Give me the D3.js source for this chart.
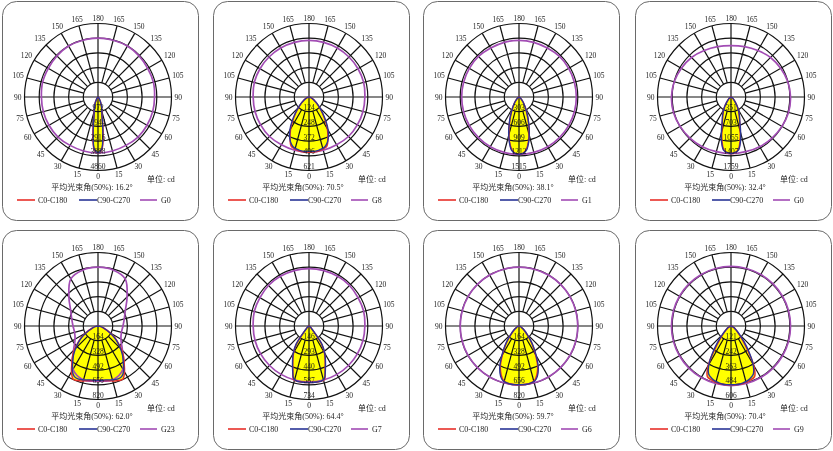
<!DOCTYPE html>
<html>
<head>
<meta charset="utf-8">
<script src="https://cdn.jsdelivr.net/npm/d3@7"></script>
<style>
  body { margin: 0; background: #fff; -webkit-font-smoothing: antialiased; }
  svg { display: block; will-change: transform; }
  text { font-family: "Liberation Serif", "Noto Sans CJK SC", serif; opacity: 0.99; }
</style>
</head>
<body>
<svg id="chart" width="833" height="451"></svg>
<script>
// angles (degrés depuis le bas, 0 = nadir) pour les courbes C
var angles = [0, 4, 8, 12, 16, 20, 25, 30, 35, 40, 45, 50, 55, 60, 70, 80, 90];
// angles pour la courbe G (0 à 180)
var gAngles = [0, 15, 30, 45, 60, 75, 90, 105, 120, 135, 150, 165, 180];

// valeur max de l'échelle (cd), angle de faisceau, nom de la courbe G
var maxCd = [4860, 621, 1515, 1759, 820, 734, 820, 606];
var beamAngles = ["16.2", "70.5", "38.1", "32.4", "62.0", "64.4", "59.7", "70.4"];
var gNames = ["G0", "G8", "G1", "G0", "G23", "G7", "G6", "G9"];

// intensités relatives (% de l'échelle max)
var c0Pan1  = [76, 72, 50, 27, 19, 14, 9, 5, 3, 2, 1, 1, 0, 0, 0, 0, 0];
var c90Pan1 = [76, 71, 47, 26, 19, 14, 9, 5, 3, 2, 1, 0, 0, 0, 0, 0, 0];
var gPan1   = [76, 76, 76, 77, 77, 77, 77, 78, 78, 79, 80, 80, 80];

var c0Pan2  = [75, 75, 75, 74, 73, 71, 61, 50, 38, 28, 20, 14, 10, 7, 3, 1, 0];
var c90Pan2 = [74, 74, 74, 73, 72, 69, 62, 52, 40, 29, 21, 15, 10, 7, 3, 1, 0];
var gPan2   = [75, 75, 75, 76, 76, 76, 76, 77, 77, 77, 77, 77, 77];

var c0Pan3  = [78, 77, 72, 62, 50, 38, 26, 18, 12, 8, 5, 3, 2, 1, 0, 0, 0];
var c90Pan3 = [78, 77, 73, 63, 51, 39, 27, 18, 12, 8, 5, 3, 2, 1, 0, 0, 0];
var gPan3   = [78, 78, 78, 78, 78, 78, 78, 78, 78, 78, 77, 77, 77];

var c0Pan4  = [77, 76, 72, 60, 45, 34, 26, 20, 14, 9, 6, 4, 2, 1, 0, 0, 0];
var c90Pan4 = [77, 76, 73, 62, 47, 35, 27, 20, 14, 9, 6, 4, 2, 1, 0, 0, 0];
var gPan4   = [77, 77, 78, 79, 80, 81, 81, 80, 78, 76, 73, 71, 70];

var c0Pan5  = [74, 74, 75, 76, 78, 79, 80, 72, 62, 54, 45, 36, 28, 20, 8, 3, 0];
var c90Pan5 = [74, 74, 74, 75, 76, 77, 76, 70, 60, 52, 43, 35, 27, 19, 8, 3, 0];
var gPan5   = [75, 76, 68, 47, 36, 33, 34, 37, 43, 56, 74, 79, 80];

var c0Pan6  = [77, 77, 77, 77, 76, 64, 52, 42, 30, 10, 5, 3, 2, 1, 0, 0, 0];
var c90Pan6 = [77, 77, 77, 77, 75, 65, 53, 43, 31, 11, 5, 3, 2, 1, 0, 0, 0];
var gPan6   = [76, 76, 76, 76, 76, 76, 76, 77, 77, 78, 78, 78, 78];

var c0Pan7  = [80, 80, 80, 79, 77, 71, 60, 45, 33, 22, 14, 9, 6, 4, 2, 1, 0];
var c90Pan7 = [80, 80, 80, 79, 78, 73, 62, 47, 34, 23, 15, 10, 6, 4, 2, 1, 0];
var gPan7   = [80, 80, 80, 80, 80, 80, 80, 80, 80, 80, 80, 80, 80];

var c0Pan8  = [80, 80, 80, 80, 79, 78, 76, 62, 38, 23, 15, 10, 7, 5, 2, 1, 0];
var c90Pan8 = [80, 80, 80, 79, 78, 76, 72, 60, 42, 27, 17, 11, 7, 5, 2, 1, 0];
var gPan8   = [81, 81, 81, 81, 81, 81, 81, 81, 81, 81, 81, 81, 81];

var c0All = [c0Pan1, c0Pan2, c0Pan3, c0Pan4, c0Pan5, c0Pan6, c0Pan7, c0Pan8];
var c90All = [c90Pan1, c90Pan2, c90Pan3, c90Pan4, c90Pan5, c90Pan6, c90Pan7, c90Pan8];
var gAll = [gPan1, gPan2, gPan3, gPan4, gPan5, gPan6, gPan7, gPan8];

var panelX = [2, 213, 423, 635];
var panelY = [1, 230];
var panelW = 196, panelH = 219;
var cx = 96, cy = 96;
var R = 73.5;

var red = "#e8302a", blue = "#2a3596", purple = "#a24cb4", yellow = "#ffff00";
var ink = "#1a1a1a";

var svg = d3.select("#chart");
var rad = Math.PI / 180;

// courbe C : côté droit de 90 à 0 puis côté gauche de 0 à 90
function lobePath(values, r) {
  var pts = [];
  for (var i = angles.length - 1; i >= 0; i--) pts.push([Math.PI - angles[i] * rad, r(values[i])]);
  for (var i = 1; i < angles.length; i++) pts.push([Math.PI + angles[i] * rad, r(values[i])]);
  return d3.lineRadial().curve(d3.curveCatmullRom.alpha(0.5))(pts);
}

// courbe G fermée, symétrique
function gPath(values, r) {
  var pts = [];
  for (var i = gAngles.length - 1; i >= 0; i--) pts.push([Math.PI - gAngles[i] * rad, r(values[i])]);
  for (var i = 1; i < gAngles.length - 1; i++) pts.push([Math.PI + gAngles[i] * rad, r(values[i])]);
  return d3.lineRadial().curve(d3.curveCatmullRomClosed.alpha(0.5))(pts);
}

function drawPanel(k) {
  var g = svg.append("g")
    .attr("transform", `translate(${panelX[k % 4]},${panelY[Math.floor(k / 4)]})`);

  g.append("rect")
    .attr("x", 0.5).attr("y", 0.5)
    .attr("width", panelW).attr("height", panelH)
    .attr("rx", 14)
    .attr("fill", "#fff")
    .attr("stroke", "#6a6a6a")
    .attr("stroke-width", 1);

  var r = d3.scaleLinear().domain([0, 100]).range([0, R]);
  var c = g.append("g").attr("transform", `translate(${cx},${cy})`);

  // remplissage jaune
  c.append("path").attr("d", lobePath(c0All[k], r)).attr("fill", yellow);
  c.append("path").attr("d", lobePath(c90All[k], r)).attr("fill", yellow);

  // grille
  var grid = c.append("g").attr("stroke", "#111").attr("stroke-width", 1.2).attr("fill", "none");
  [20, 40, 60, 80, 100].forEach(v => grid.append("circle").attr("r", r(v)));
  d3.range(15, 180, 15).filter(a => a != 90).forEach(a => {
    [-1, 1].forEach(s => {
      grid.append("line")
        .attr("x1", s * r(20) * Math.sin(a * rad)).attr("y1", r(20) * Math.cos(a * rad))
        .attr("x2", s * r(100) * Math.sin(a * rad)).attr("y2", r(100) * Math.cos(a * rad));
    });
  });
  grid.append("line").attr("x1", -R).attr("x2", R).attr("y1", 0).attr("y2", 0);
  grid.append("line").attr("x1", 0).attr("x2", 0).attr("y1", -R).attr("y2", R);

  // courbes
  c.append("path").attr("d", gPath(gAll[k], r))
    .attr("fill", "none").attr("stroke", purple).attr("stroke-width", 1.7);
  c.append("path").attr("d", lobePath(c0All[k], r))
    .attr("fill", "none").attr("stroke", red).attr("stroke-width", 1.5);
  c.append("path").attr("d", lobePath(c90All[k], r))
    .attr("fill", "none").attr("stroke", blue).attr("stroke-width", 1.4);

  // valeurs des anneaux
  [1, 2, 3, 4, 5].forEach(i => {
    var val = i == 5 ? maxCd[k] : Math.floor(maxCd[k] * i / 5);
    c.append("text")
      .attr("x", 0).attr("y", r(i * 20) - 1.5)
      .attr("text-anchor", "middle")
      .attr("font-size", 7.5)
      .attr("fill", ink)
      .text(val);
  });

  // étiquettes des angles
  d3.range(0, 181, 15).forEach(a => {
    var sides = (a == 0 || a == 180) ? [1] : [-1, 1];
    var label = String(a);
    sides.forEach(s => {
      var d = R + 3 + Math.abs(Math.sin(a * rad)) * label.length * 1.9 + Math.abs(Math.cos(a * rad)) * 2.5;
      c.append("text")
        .attr("x", s * d * Math.sin(a * rad))
        .attr("y", d * Math.cos(a * rad))
        .attr("dy", "0.35em")
        .attr("text-anchor", "middle")
        .attr("font-size", 7.5)
        .attr("fill", ink)
        .text(label);
    });
  });

  // textes du bas
  g.append("text").attr("x", 145).attr("y", 181)
    .attr("font-size", 8).attr("fill", ink).text("单位: cd");
  g.append("text").attr("x", 90).attr("y", 189)
    .attr("text-anchor", "middle")
    .attr("font-size", 8).attr("fill", ink)
    .text(`平均光束角(50%): ${beamAngles[k]}°`);

  // légende
  var legend = [
    { name: "C0-C180", color: red, x1: 15, x2: 33, tx: 36 },
    { name: "C90-C270", color: blue, x1: 77, x2: 95, tx: 95 },
    { name: gNames[k], color: purple, x1: 138, x2: 155, tx: 159 }
  ];
  legend.forEach(l => {
    g.append("line").attr("x1", l.x1).attr("x2", l.x2).attr("y1", 199).attr("y2", 199)
      .attr("stroke", l.color).attr("stroke-width", 1.6);
    g.append("text").attr("x", l.tx).attr("y", 199).attr("dy", "0.35em")
      .attr("font-size", 8).attr("fill", ink).text(l.name);
  });
}

d3.range(8).forEach(drawPanel);
</script>
</body>
</html>
